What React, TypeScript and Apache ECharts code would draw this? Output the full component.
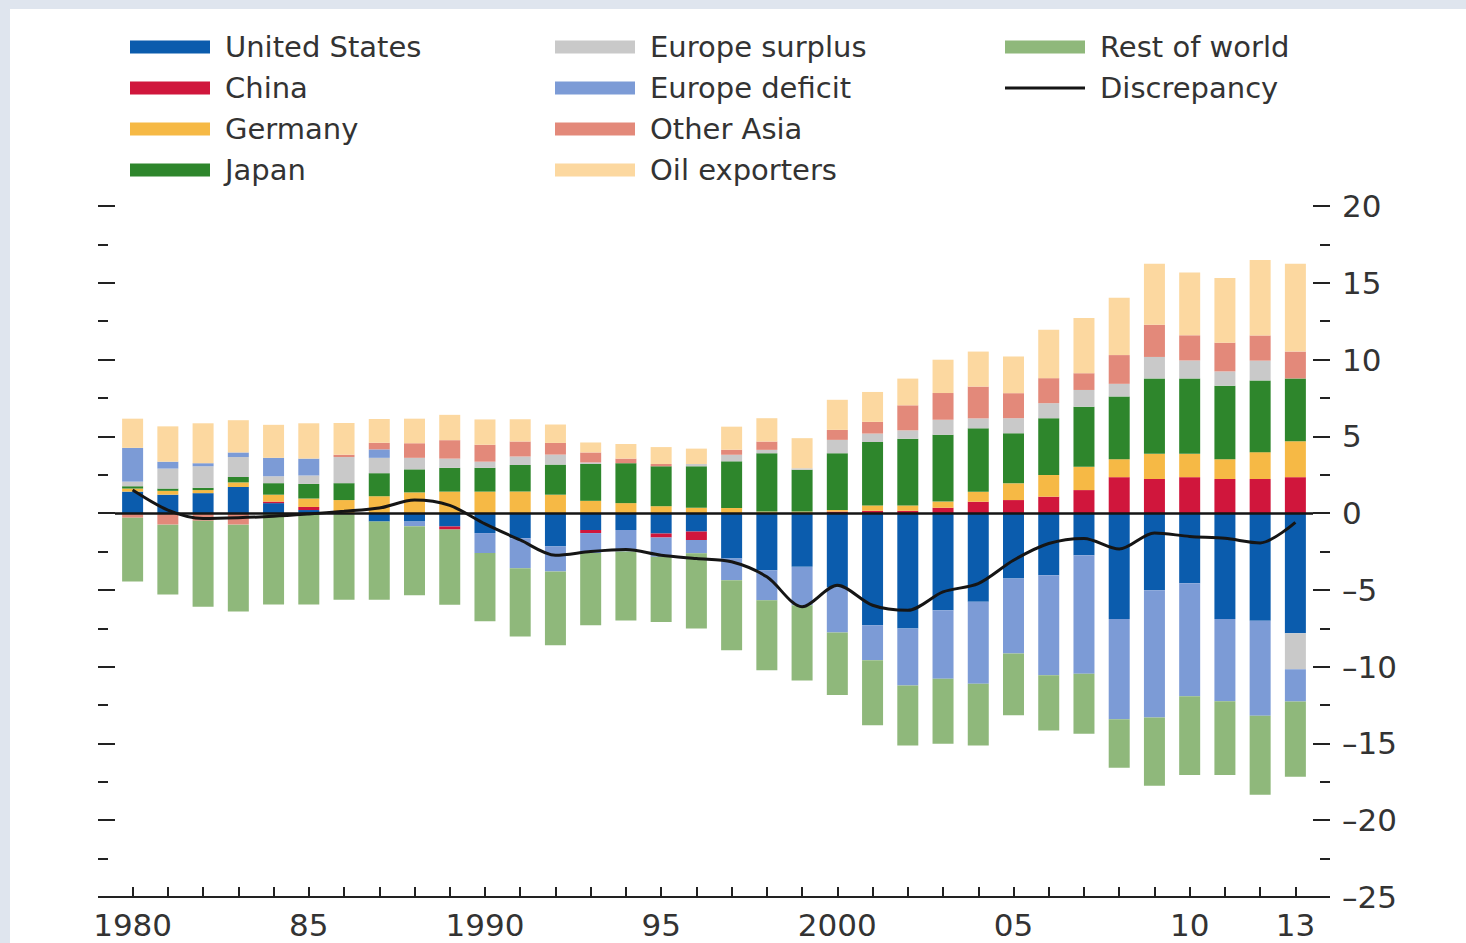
import React, { useEffect, useRef } from 'react';
import * as echarts from 'echarts';

const years = [
  '1980', '1981', '1982', '1983', '1984', '1985', '1986', '1987', '1988', '1989',
  '1990', '1991', '1992', '1993', '1994', '1995', '1996', '1997', '1998', '1999',
  '2000', '2001', '2002', '2003', '2004', '2005', '2006', '2007', '2008', '2009',
  '2010', '2011', '2012', '2013',
];

const tickLabelYears = ['1980', '1985', '1990', '1995', '2000', '2005', '2010', '2013'];
const tickLabelTexts = ['1980', '85', '1990', '95', '2000', '05', '10', '13'];

const unitedStates = [
  1.4, 1.2, 1.3, 1.7, 0.65, 0.2, 0, -0.55, -0.55, -0.87,
  -1.3, -1.63, -2.17, -1.1, -1.1, -1.33, -1.2, -2.96, -3.72, -3.5,
  -4.85, -7.3, -7.52, -6.33, -5.78, -4.26, -4.04, -2.74, -6.89, -5.02,
  -4.56, -6.89, -7.01, -7.83,
];
const china = [
  0, 0, 0, 0, 0.1, 0.2, 0, 0, 0, -0.2,
  0, 0, 0, -0.2, 0, -0.26, -0.55, 0, 0, 0,
  0.1, 0.15, 0.15, 0.35, 0.74, 0.85, 1.07, 1.5, 2.34, 2.22,
  2.34, 2.22, 2.22, 2.34,
];
const germany = [
  0.2, 0.25, 0.2, 0.3, 0.45, 0.55, 0.85, 1.1, 1.35, 1.4,
  1.4, 1.4, 1.2, 0.8, 0.65, 0.45, 0.35, 0.33, 0.1, 0.1,
  0.1, 0.35, 0.35, 0.4, 0.65, 1.09, 1.41, 1.52, 1.17, 1.64,
  1.52, 1.29, 1.75, 2.34,
];
const japan = [
  0.15, 0.15, 0.15, 0.35, 0.75, 0.95, 1.1, 1.5, 1.5, 1.55,
  1.55, 1.74, 1.96, 2.4, 2.6, 2.6, 2.7, 3.04, 3.8, 2.72,
  3.7, 4.13, 4.35, 4.35, 4.13, 3.26, 3.7, 3.91, 4.09, 4.91,
  4.91, 4.79, 4.67, 4.09,
];
const europeSurplus = [
  0.3, 1.3, 1.4, 1.3, 0.45, 0.55, 1.7, 1.0, 0.75, 0.6,
  0.4, 0.55, 0.65, 0.1, 0, 0, 0.15, 0.43, 0.22, 0.1,
  0.87, 0.55, 0.54, 0.98, 0.65, 0.98, 0.98, 1.09, 0.82, 1.4,
  1.17, 0.93, 1.29, -2.34,
];
const europeDeficit = [
  2.2, 0.45, 0.2, 0.3, 1.2, 1.1, 0, 0.55, -0.3, 0,
  -1.3, -1.96, -1.63, -1.3, -1.4, -1.26, -0.87, -1.41, -1.96, -2.5,
  -2.93, -2.28, -3.7, -4.46, -5.33, -4.89, -6.52, -7.72, -6.54, -8.29,
  -7.36, -5.37, -6.19, -2.1,
];
const otherAsia = [
  -0.3, -0.75, -0.5, -0.75, 0, 0, 0.15, 0.43, 0.95, 1.2,
  1.1, 0.98, 0.76, 0.65, 0.3, 0.15, 0, 0.33, 0.54, 0,
  0.65, 0.76, 1.63, 1.74, 2.07, 1.63, 1.63, 1.09, 1.87, 2.1,
  1.64, 1.87, 1.64, 1.75,
];
const oilExporters = [
  1.9, 2.3, 2.6, 2.1, 2.15, 2.3, 2.07, 1.55, 1.6, 1.65,
  1.65, 1.45, 1.2, 0.65, 0.95, 1.1, 1.0, 1.5, 1.52, 1.96,
  1.96, 1.95, 1.74, 2.17, 2.28, 2.39, 3.15, 3.59, 3.74, 3.97,
  4.09, 4.21, 4.91, 5.72,
];
const restOfWorld = [
  -4.15, -4.55, -5.6, -5.65, -5.95, -5.95, -5.65, -5.1, -4.5, -4.9,
  -4.45, -4.45, -4.8, -4.7, -4.5, -4.24, -4.9, -4.56, -4.56, -4.9,
  -4.07, -4.24, -3.91, -4.23, -4.02, -4.02, -3.59, -3.91, -3.15, -4.44,
  -5.14, -4.8, -5.14, -4.9,
];
const discrepancy = [
  1.5, 0.2, -0.35, -0.3, -0.2, -0.05, 0.12, 0.33, 0.85, 0.5,
  -0.7, -1.75, -2.75, -2.5, -2.37, -2.74, -2.96, -3.17, -4.15, -6.1,
  -4.7, -6.0, -6.33, -5.13, -4.59, -3.07, -1.98, -1.65, -2.34, -1.29,
  -1.52, -1.64, -1.94, -0.6,
];

const barSeriesDefs = [
  { name: 'United States', data: unitedStates, color: '#0b5cad' },
  { name: 'China', data: china, color: '#d0163c' },
  { name: 'Germany', data: germany, color: '#f6b945' },
  { name: 'Japan', data: japan, color: '#2e862c' },
  { name: 'Europe surplus', data: europeSurplus, color: '#c9c9c9' },
  { name: 'Europe deficit', data: europeDeficit, color: '#7c9bd6' },
  { name: 'Other Asia', data: otherAsia, color: '#e3897a' },
  { name: 'Oil exporters', data: oilExporters, color: '#fcd8a0' },
  { name: 'Rest of world', data: restOfWorld, color: '#8fb87b' },
];

const FONT = '"DejaVu Sans", sans-serif';
const INK = '#222';
const LINE_COLOR = '#151515';

export default function App() {
  const ref = useRef<HTMLDivElement>(null);

  useEffect(() => {
    const chart = echarts.init(ref.current!, null, { renderer: 'svg' });

    const yBase = {
      type: 'value',
      min: -25,
      max: 20,
      splitLine: { show: false },
      axisLine: { show: false },
    };
    const tickStyle = { color: INK, width: 2 };

    const legendCommon = {
      orient: 'vertical',
      top: 31,
      padding: 0,
      itemWidth: 80,
      itemHeight: 13,
      itemGap: 9,
      selectedMode: false,
      symbolKeepAspect: true,
      textStyle: {
        fontFamily: FONT,
        fontSize: 29,
        color: '#333',
        lineHeight: 32,
        padding: [0, 0, 0, 10],
      },
    };

    const option = {
      animation: false,
      backgroundColor: '#dfe5ee',
      graphic: [
        {
          type: 'rect',
          z: -10,
          silent: true,
          shape: { x: 10, y: 9, width: 1456, height: 934 },
          style: { fill: '#ffffff' },
        },
      ],
      legend: [
        {
          ...legendCommon,
          left: 130,
          data: barSeriesDefs.slice(0, 4).map((s) => ({ name: s.name, icon: 'rect' })),
        },
        {
          ...legendCommon,
          left: 555,
          data: barSeriesDefs.slice(4, 8).map((s) => ({ name: s.name, icon: 'rect' })),
        },
        {
          ...legendCommon,
          left: 1005,
          data: [
            { name: 'Rest of world', icon: 'rect' },
            {
              name: 'Discrepancy',
              icon: 'path://M0,0L80,0L80,3L0,3Z',
              itemStyle: { color: LINE_COLOR, borderWidth: 0 },
            },
          ],
        },
      ],
      grid: {
        left: 115,
        right: 153,
        top: 206,
        bottom: 46,
        containLabel: false,
        outerBoundsMode: 'none',
      },
      xAxis: {
        type: 'category',
        data: years,
        boundaryGap: true,
        axisLine: { show: true, onZero: false, lineStyle: tickStyle },
        axisTick: {
          show: true,
          inside: true,
          alignWithLabel: true,
          interval: 0,
          length: 10,
          lineStyle: tickStyle,
        },
        axisLabel: {
          interval: 0,
          margin: 12,
          fontFamily: FONT,
          fontSize: 31,
          color: '#333',
          formatter: (v: string) => {
            const i = tickLabelYears.indexOf(v);
            return i >= 0 ? tickLabelTexts[i] : '';
          },
        },
        splitLine: { show: false },
      },
      yAxis: [
        {
          ...yBase,
          position: 'right',
          interval: 5,
          axisTick: { show: true, length: 17, lineStyle: tickStyle },
          axisLabel: {
            show: true,
            margin: 29,
            fontFamily: FONT,
            fontSize: 31,
            color: '#333',
            formatter: (v: number) => (v < 0 ? '\u2013' + Math.abs(v) : String(v)),
          },
        },
        {
          ...yBase,
          position: 'right',
          offset: 7,
          interval: 2.5,
          axisTick: { show: true, length: 10, lineStyle: tickStyle },
          axisLabel: { show: false },
        },
        {
          ...yBase,
          position: 'left',
          interval: 5,
          axisTick: { show: true, length: 17, lineStyle: tickStyle },
          axisLabel: { show: false },
        },
        {
          ...yBase,
          position: 'left',
          offset: 7,
          interval: 2.5,
          axisTick: { show: true, length: 10, lineStyle: tickStyle },
          axisLabel: { show: false },
        },
      ],
      series: [
        ...barSeriesDefs.map((s) => ({
          name: s.name,
          type: 'bar',
          stack: 'total',
          yAxisIndex: 0,
          barWidth: 21,
          data: s.data,
          itemStyle: { color: s.color },
          emphasis: { disabled: true },
        })),
        {
          name: 'Discrepancy',
          type: 'line',
          yAxisIndex: 0,
          data: discrepancy,
          symbol: 'none',
          showSymbol: false,
          smooth: 0.3,
          lineStyle: { color: LINE_COLOR, width: 3 },
          itemStyle: { color: LINE_COLOR },
          z: 5,
          markLine: {
            silent: true,
            symbol: ['none', 'none'],
            label: { show: false },
            lineStyle: { color: LINE_COLOR, width: 2.5, type: 'solid' },
            data: [{ yAxis: 0 }],
          },
        },
      ],
    };

    chart.setOption(option as any);
    return () => chart.dispose();
  }, []);

  return (
    <div
      ref={ref}
      style={{ position: 'fixed', left: 0, top: 0, width: 1466, height: 943 }}
    />
  );
}
